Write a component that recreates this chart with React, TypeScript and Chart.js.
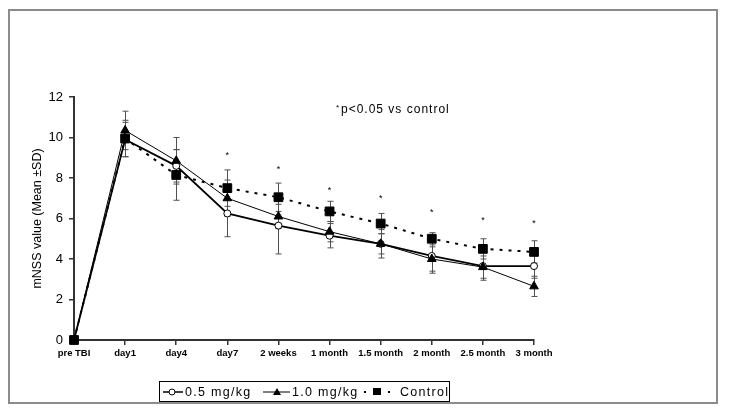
import React, { useEffect, useRef } from 'react';
import { Chart, registerables } from 'chart.js';

Chart.register(...registerables);

const categories = ['pre TBI', 'day1', 'day4', 'day7', '2 weeks', '1 month', '1.5 month', '2 month', '2.5 month', '3 month'];
const dose05Mean = [0, 9.9, 8.6, 6.25, 5.65, 5.15, 4.75, 4.15, 3.65, 3.65];
const dose05SD = [0, 0.85, 0.8, 1.15, 1.4, 0.6, 0.7, 0.85, 0.7, 0.6];
const dose10Mean = [0, 10.35, 8.85, 7.0, 6.1, 5.35, 4.75, 4.0, 3.6, 2.65];
const dose10SD = [0, 0.95, 1.15, 0.9, 0.6, 0.5, 0.5, 0.6, 0.55, 0.5];
const controlMean = [0, 9.95, 8.15, 7.5, 7.05, 6.35, 5.75, 5.0, 4.5, 4.35];
const controlSD = [0, 0.9, 1.25, 0.9, 0.7, 0.5, 0.5, 0.3, 0.5, 0.55];
const significanceY: (number | null)[] = [null, null, null, 9.2, 8.5, 7.5, 7.1, 6.4, 6.0, 5.85];
const yTicks = [0, 2, 4, 6, 8, 10, 12];
const seriesLabels = ['0.5 mg/kg', '1.0 mg/kg', 'Control'];
const yTitle = 'mNSS value (Mean \u00b1SD)';
const noteText = 'p<0.05 vs control';

const FONT = 'Arial, "Liberation Sans", sans-serif';
const sdSeries = [dose05SD, dose10SD, controlSD];

const errorBarPlugin = {
  id: 'errorBars',
  beforeDatasetsDraw(chart: any) {
    const { ctx, scales } = chart;
    const x = scales.x, y = scales.y;
    ctx.save();
    ctx.strokeStyle = '#505050';
    ctx.lineWidth = 1;
    chart.data.datasets.forEach((ds: any, di: number) => {
      const sds = sdSeries[di];
      ds.data.forEach((m: number, i: number) => {
        const sd = sds[i];
        if (!sd) return;
        const px = Math.round(x.getPixelForValue(i)) + 0.5;
        const top = y.getPixelForValue(m + sd);
        const bot = y.getPixelForValue(m - sd);
        ctx.beginPath();
        ctx.moveTo(px, top);
        ctx.lineTo(px, bot);
        ctx.moveTo(px - 3, top);
        ctx.lineTo(px + 3, top);
        ctx.moveTo(px - 3, bot);
        ctx.lineTo(px + 3, bot);
        ctx.stroke();
      });
    });
    ctx.restore();
  },
};

const annotationPlugin = {
  id: 'annotations',
  afterDraw(chart: any) {
    const { ctx, scales } = chart;
    const x = scales.x, y = scales.y;
    ctx.save();
    ctx.fillStyle = '#000';
    ctx.textAlign = 'center';
    ctx.textBaseline = 'middle';
    ctx.font = `9px ${FONT}`;
    significanceY.forEach((v, i) => {
      if (v == null) return;
      ctx.fillText('*', x.getPixelForValue(i), y.getPixelForValue(v) + 2);
    });
    // note
    ctx.textAlign = 'left';
    ctx.font = `8px ${FONT}`;
    ctx.fillText('*', 336, 108);
    ctx.font = `12px ${FONT}`;
    (ctx as any).letterSpacing = '1px';
    ctx.fillText(noteText, 341, 110);
    (ctx as any).letterSpacing = '0px';

    // legend
    ctx.strokeStyle = '#000';
    ctx.lineWidth = 1;
    ctx.strokeRect(159.5, 381.5, 290, 20);
    const ly = 392;
    // item 1
    ctx.beginPath();
    ctx.lineWidth = 1.5;
    ctx.moveTo(163, ly);
    ctx.lineTo(183, ly);
    ctx.stroke();
    ctx.beginPath();
    ctx.lineWidth = 1;
    ctx.fillStyle = '#fff';
    ctx.arc(172, ly, 3, 0, Math.PI * 2);
    ctx.fill();
    ctx.stroke();
    // item 2
    ctx.beginPath();
    ctx.moveTo(263, ly);
    ctx.lineTo(290, ly);
    ctx.stroke();
    ctx.beginPath();
    ctx.fillStyle = '#000';
    ctx.moveTo(277, ly - 4);
    ctx.lineTo(281, ly + 3);
    ctx.lineTo(273, ly + 3);
    ctx.closePath();
    ctx.fill();
    // item 3
    ctx.fillRect(364, ly - 1, 2, 2);
    ctx.fillRect(388, ly - 1, 2, 2);
    ctx.fillRect(373, ly - 4, 8, 7);
    ctx.font = `12.5px ${FONT}`;
    (ctx as any).letterSpacing = '1.3px';
    ctx.fillText(seriesLabels[0], 185, ly + 1);
    ctx.fillText(seriesLabels[1], 292, ly + 1);
    ctx.fillText(seriesLabels[2], 400, ly + 1);
    (ctx as any).letterSpacing = '0px';
    ctx.restore();
  },
};

export default function App() {
  const ref = useRef<HTMLCanvasElement>(null);
  useEffect(() => {
    if (!ref.current) return;
    const axisGrid = {
      drawOnChartArea: false,
      drawTicks: true,
      tickLength: 5,
      color: '#333',
      lineWidth: 1.5,
    };
    const axisBorder = { display: true, color: '#333', width: 2 };
    const chart = new Chart(ref.current, {
      type: 'line',
      data: {
        labels: categories,
        datasets: [
          {
            label: seriesLabels[0],
            data: dose05Mean,
            borderColor: '#000',
            borderWidth: 1.8,
            pointStyle: 'circle',
            pointRadius: 3.5,
            pointBackgroundColor: '#fff',
            pointBorderColor: '#000',
            pointBorderWidth: 1,
            tension: 0,
            clip: false,
            order: 2,
          },
          {
            label: seriesLabels[1],
            data: dose10Mean,
            borderColor: '#000',
            borderWidth: 1,
            pointStyle: 'triangle',
            pointRadius: 5,
            pointBackgroundColor: '#000',
            pointBorderColor: '#000',
            pointBorderWidth: 1,
            tension: 0,
            clip: false,
            order: 1,
          },
          {
            label: seriesLabels[2],
            data: controlMean,
            borderColor: '#000',
            borderWidth: 2,
            borderDash: [3, 6],
            pointStyle: 'rect',
            pointRadius: 6.2,
            pointBackgroundColor: '#000',
            pointBorderColor: '#000',
            pointBorderWidth: 1,
            tension: 0,
            clip: false,
            order: 0,
          },
        ],
      } as any,
      options: {
        animation: false,
        responsive: true,
        maintainAspectRatio: false,
        events: [],
        layout: { padding: { left: 0, right: 195, top: 97, bottom: 45 } },
        plugins: { legend: { display: false }, tooltip: { enabled: false } },
        scales: {
          x: {
            type: 'category',
            offset: false,
            grid: axisGrid,
            border: axisBorder,
            ticks: {
              color: '#000',
              font: { family: FONT, size: 9.5, weight: 'bold' },
              padding: 3,
              maxRotation: 0,
              autoSkip: false,
            },
            afterFit(s: any) {
              s.height = 30;
            },
          },
          y: {
            min: 0,
            max: 12,
            grid: axisGrid,
            border: axisBorder,
            ticks: { color: '#000', font: { family: FONT, size: 13 }, padding: 6 },
            afterBuildTicks(s: any) {
              s.ticks = yTicks.map((v) => ({ value: v }));
            },
            title: {
              display: true,
              text: yTitle,
              color: '#000',
              font: { family: FONT, size: 12.5 },
              padding: { top: 30, bottom: 0 },
            },
            afterFit(s: any) {
              s.width = 74;
            },
          },
        },
      } as any,
      plugins: [errorBarPlugin, annotationPlugin],
    });
    return () => chart.destroy();
  }, []);
  return (
    <div style={{ position: 'absolute', left: 0, top: 0, width: 729, height: 415, background: '#fff' }}>
      <canvas ref={ref} />
      <div
        style={{
          position: 'absolute',
          left: 8,
          top: 9,
          width: 710,
          height: 395,
          border: '2px solid #8c8c8c',
          boxSizing: 'border-box',
          pointerEvents: 'none',
        }}
      />
    </div>
  );
}
